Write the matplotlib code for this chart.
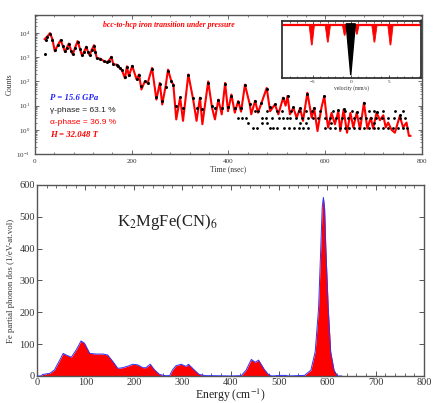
import numpy as np
import matplotlib
matplotlib.use("Agg")
import matplotlib.pyplot as plt
from matplotlib.ticker import MultipleLocator, LogLocator, NullFormatter, FixedLocator

# ---------------- data: top panel (time spectrum) ----------------
fit_t = [20, 25, 31, 36, 41, 47, 53, 58, 62, 66, 70, 75, 78, 83, 88, 93, 97, 101, 106, 110,
         113, 117, 122, 125, 128, 134, 142, 148, 152, 158, 162, 169, 172, 176, 180, 186, 190,
         194, 201, 210, 215, 220, 227, 233, 242, 251, 258, 263, 270, 275, 282, 286, 292, 300,
         306, 317, 327, 334, 341, 346, 358, 366, 372, 379, 386, 393, 399, 406, 413, 420, 426,
         434, 444, 447, 455, 461, 468, 479, 486, 496, 503, 513, 518, 522, 527, 534, 541, 548,
         554, 563, 572, 577, 584, 592, 598, 603, 606, 613, 620, 627, 631, 638, 645, 652, 658,
         665, 672, 680, 687, 694, 699, 706, 713, 720, 725, 730, 737, 744, 754, 761, 768, 773, 776]
fit_log = [3.75, 3.85, 4.0, 3.75, 3.25, 3.5, 3.71, 3.45, 3.22, 3.4, 3.57, 3.25, 3.12, 3.4, 3.67,
           3.35, 3.08, 3.2, 3.44, 3.2, 3.08, 3.3, 3.5, 3.2, 2.95, 2.95, 2.85, 2.8, 2.85, 3.02,
           2.7, 2.7, 2.6, 2.55, 2.45, 2.13, 2.63, 2.22, 2.65, 2.08, 2.29, 1.67, 2.0, 1.94, 2.56,
           1.25, 1.94, 1.05, 1.80, 2.49, 2.0, 1.87, 0.43, 1.33, 0.37, 2.29, 1.25, 0.37, 1.33,
           0.23, 2.0, 0.91, 0.43, 1.25, 0.64, 1.94, 0.77, 1.46, 0.71, 1.19, 0.75, 1.87, 1.05,
           0.64, 1.2, 0.71, 1.1, 1.73, 0.77, 1.05, 0.64, 1.33, 1.0, 1.40, 0.64, 0.91, 0.50, 0.9,
           0.37, 1.53, 0.5, 0.9, -0.05, 0.9, 1.40, 0.50, 0.09, 0.7, 0.23, 0.77, -0.05, 0.84,
           -0.12, 0.7, 0.1, 0.71, 0.02, 1.12, 0.05, 0.5, 0.05, 0.71, 0.4, 0.6, 0.1, 0.3, 0.0,
           -0.12, 0.57, 0.1, 0.3, -0.25, -0.25]

# measured counts, early part (follows the fit)
data_t = [20, 22, 25, 31, 36, 41, 47, 53, 58, 62, 66, 70, 75, 78, 83, 88, 93, 97, 101, 106, 110,
          113, 117, 122, 125, 128, 134, 142, 148, 152, 158, 162, 169, 172, 176, 180, 186, 190,
          194, 201, 210, 215, 220, 227, 233, 242, 251, 258, 263, 270, 275, 282, 286, 292, 300,
          306, 317, 327, 334, 341, 346, 358, 366, 372, 379, 386, 393, 399, 406, 413, 420, 426,
          434, 444, 455, 468, 479, 486, 496, 513, 522, 534, 548, 563, 577, 598, 627, 638, 665,
          680, 706, 754]
data_log = [3.13, 3.7, 3.85, 3.98, 3.72, 3.3, 3.5, 3.7, 3.45, 3.25, 3.4, 3.55, 3.27, 3.15, 3.4,
            3.65, 3.35, 3.1, 3.2, 3.43, 3.2, 3.1, 3.3, 3.48, 3.2, 2.97, 2.95, 2.86, 2.8, 2.85,
            3.0, 2.72, 2.7, 2.62, 2.55, 2.47, 2.2, 2.6, 2.25, 2.62, 2.12, 2.27, 1.8, 2.0, 1.95,
            2.52, 1.35, 1.9, 1.2, 1.78, 2.45, 2.0, 1.85, 1.0, 1.35, 0.9, 2.25, 1.3, 0.9, 1.3,
            0.85, 1.95, 1.0, 0.9, 1.25, 0.9, 1.9, 0.95, 1.4, 0.9, 1.15, 0.9, 1.85, 1.05, 1.2,
            1.1, 1.7, 0.95, 1.05, 1.3, 1.4, 0.95, 0.9, 1.5, 0.9, 1.4, 0.8, 0.85, 0.75, 1.1, 0.75,
            0.6]

# measured counts, late part (quantised count levels)
band_counts = [5.9, 3.2, 1.95, 1.15]
band_t = [
    [455, 462, 480, 500, 510, 530, 545, 560, 572, 590, 615, 640, 655, 690, 700, 720, 745, 760],
    [420, 428, 436, 470, 478, 490, 505, 512, 520, 528, 540, 552, 565, 575, 585, 600, 610, 622,
     635, 648, 660, 672, 685, 695, 705, 718, 730, 742, 755, 765],
    [440, 470, 480, 548, 560, 612, 700],
    [450, 458, 485, 492, 500, 515, 525, 535, 545, 555, 565, 600, 610, 620, 630, 640, 650, 660,
     670, 680, 690, 700, 710, 720, 730, 740, 750, 760, 770],
]

# inset (Moessbauer-like spectrum)
base_level = 0.93
dip_vel = [-5.1, -3.0, -0.8, 0.8, 3.1, 5.2]
dip_bottom = [0.58, 0.63, 0.75, 0.77, 0.63, 0.58]
dip_halfwidth = [0.35, 0.35, 0.3, 0.3, 0.35, 0.35]
black_vel = 0.0
black_bottom = 0.05
black_halfwidth = 0.6

# ---------------- data: bottom panel (phonon DOS) ----------------
energy = [0, 8, 12, 26, 36, 47, 54, 60, 71, 81, 91, 98, 109, 122, 136, 146, 157, 167, 177, 188,
          198, 208, 219, 225, 234, 243, 253, 265, 274, 280, 287, 298, 308, 313, 325, 335, 349,
          360, 400, 422, 432, 443, 451, 458, 470, 478, 485, 505, 513, 520, 553, 566, 575, 582,
          587, 589.5, 592, 594.5, 597, 602, 607, 614, 621, 630]
dos = [0, 0, 5, 8, 19, 50, 71, 66, 59, 82, 110, 103, 71, 69, 69, 66, 45, 24, 26, 31, 37, 35, 26,
       26, 37, 19, 5, 1, 1, 19, 32, 37, 30, 37, 19, 5, 1, 1, 0, 1, 18, 52, 43, 50, 20, 5, 0, 2,
       2, 0, 2, 18, 76, 213, 422, 530, 561, 525, 401, 213, 76, 18, 0, 0]

# ---------------- figure ----------------
plt.rcParams['font.family'] = ['Liberation Serif', 'DejaVu Serif']
plt.rcParams['mathtext.fontset'] = 'stix'
fig = plt.figure(figsize=(4.33, 4.03), dpi=100)
frame_col = '#555555'

# top panel
ax1 = fig.add_axes([0.0808, 0.6179, 0.8938, 0.3449])
ax1.set_yscale('log')
ax1.plot(fit_t, [10 ** v for v in fit_log], color='red', lw=1.5, zorder=2)
ax1.plot(data_t, [10 ** v for v in data_log], color='black', lw=0, marker='o',
         ms=1.2, zorder=3)
for lvl, ts in zip(band_counts, band_t):
    ax1.plot(ts, [lvl] * len(ts), ls='none', marker='o', ms=1.0, color='black', zorder=3)
ax1.set_xlim(0, 800)
ax1.set_ylim(0.1, 10 ** 4.75)
ax1.xaxis.set_major_locator(MultipleLocator(200))
ax1.xaxis.set_minor_locator(MultipleLocator(40))
ax1.yaxis.set_major_locator(LogLocator(base=10, numticks=10))
ax1.yaxis.set_minor_locator(LogLocator(base=10, subs=np.arange(2, 10), numticks=10))
ax1.yaxis.set_minor_formatter(NullFormatter())
ax1.tick_params(which='both', direction='in', top=True, right=True, colors=frame_col,
                labelcolor='#333333', labelsize=5)
ax1.tick_params(which='major', length=3, width=0.6)
ax1.tick_params(which='minor', length=1.5, width=0.5)
for s in ax1.spines.values():
    s.set_color(frame_col)
    s.set_linewidth(1.0)
ax1.set_xlabel('Time (nsec)', fontsize=5.5, labelpad=1, color='#333333')
ax1.set_ylabel('Counts', fontsize=5.5, labelpad=2, color='#333333')
ax1.text(0.175, 0.93, 'bcc-to-hcp iron transition under pressure', transform=ax1.transAxes,
         color='red', fontsize=5.6, fontstyle='italic', fontweight='bold', va='center')
ax1.text(0.04, 0.40, 'P = 15.6 GPa', transform=ax1.transAxes, color='#2020ff', fontsize=6.3,
         fontstyle='italic', fontweight='bold', va='center')
ax1.text(0.04, 0.31, 'γ-phase = 63.1 %', transform=ax1.transAxes, color='#222222',
         fontsize=6.0, family=['Liberation Sans', 'DejaVu Sans'], va='center')
ax1.text(0.04, 0.225, 'α-phase = 36.9 %', transform=ax1.transAxes, color='red',
         fontsize=6.0, family=['Liberation Sans', 'DejaVu Sans'], va='center')
ax1.text(0.04, 0.14, 'H = 32.048 T', transform=ax1.transAxes, color='red', fontsize=6.3,
         fontstyle='italic', fontweight='bold', va='center')

# inset
axi = fig.add_axes([0.6513, 0.8065, 0.321, 0.1414])
axi.set_xlim(-9, 9.2)
axi.set_ylim(0, 1)
axi.axhline(base_level, color='red', lw=1.6, zorder=2)
for v, b, w in zip(dip_vel, dip_bottom, dip_halfwidth):
    axi.fill([v - w, v - 0.05, v + 0.05, v + w], [base_level, b, b, base_level],
             color='red', lw=0.6, zorder=3)
axi.fill([black_vel - black_halfwidth, black_vel, black_vel + black_halfwidth],
         [base_level + 0.02, black_bottom, base_level + 0.02], color='black', zorder=4)
axi.xaxis.set_major_locator(FixedLocator([-5, 0, 5]))
axi.xaxis.set_minor_locator(MultipleLocator(1))
axi.set_yticks([])
axi.tick_params(which='both', direction='in', top=True, colors='#333333', labelsize=3.8,
                pad=1.5)
axi.tick_params(which='major', length=2.5, width=0.6)
axi.tick_params(which='minor', length=1.5, width=0.5)
for s in axi.spines.values():
    s.set_color('#333333')
    s.set_linewidth(1.3)
axi.set_xlabel('velocity (mm/s)', fontsize=4, labelpad=1, color='#333333')

# bottom panel
ax2 = fig.add_axes([0.0855, 0.067, 0.8938, 0.474])
ax2.fill_between(energy, dos, 0, color='red', lw=0, zorder=2)
ax2.plot(energy, dos, color='#3030ff', lw=0.7, zorder=3, solid_joinstyle='round')
ax2.set_xlim(0, 800)
ax2.set_ylim(0, 600)
ax2.xaxis.set_major_locator(MultipleLocator(100))
ax2.xaxis.set_minor_locator(MultipleLocator(20))
ax2.yaxis.set_major_locator(MultipleLocator(100))
ax2.tick_params(which='both', direction='in', top=True, right=True, colors=frame_col,
                labelcolor='#333333', labelsize=7.5, pad=1.5)
ax2.tick_params(which='major', length=3.5, width=0.7)
ax2.tick_params(which='minor', length=2, width=0.6)
for s in ax2.spines.values():
    s.set_color(frame_col)
    s.set_linewidth(1.0)
ax2.set_ylabel('Fe partial phonon dos (1/eV-at.vol)', fontsize=6.3, labelpad=3, color='#333333')
ax2.set_xlabel('Energy (cm$^{-1}$)', fontsize=8.5, labelpad=0, color='#222222')
ax2.text(166, 484, 'K$_2$MgFe(CN)$_6$', fontsize=12, va='center', color='#222222')

fig.savefig('out.png', dpi=100)
